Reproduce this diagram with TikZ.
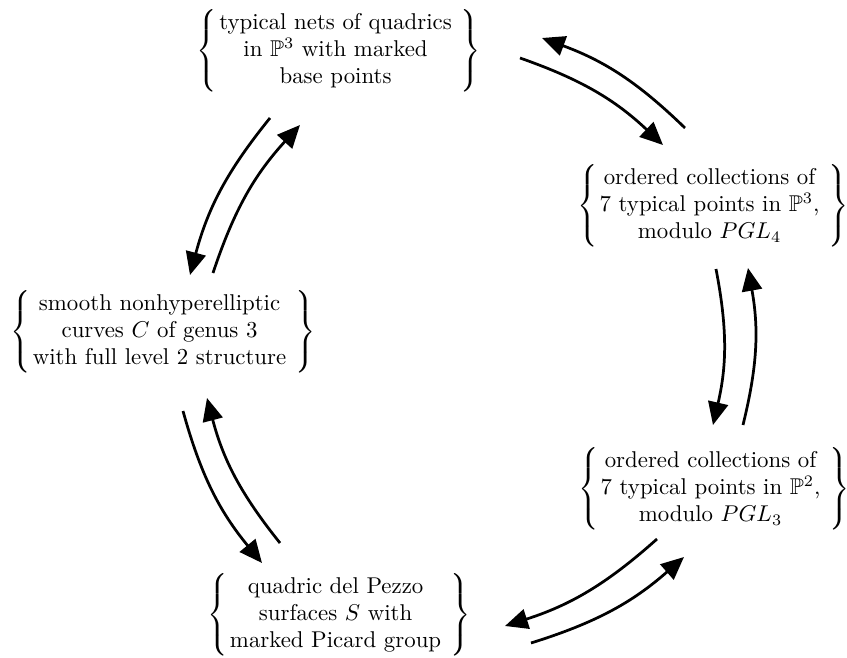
\documentclass[tikz,border=0pt]{standalone}
\usepackage{amssymb}
\usetikzlibrary{arrows.meta}
\newcommand{\bracebox}[1]{$\left\{\begin{tabular}{@{\hspace{1pt}}c@{\hspace{4pt}}}#1\end{tabular}\right\}$}
\begin{document}
\begin{tikzpicture}[x=0.4378pt,y=-0.4378pt,
  setnode/.style={inner sep=0pt,outer sep=0pt,anchor=center},
  arr/.style={line width=1.2pt,-{Triangle[length=10pt,width=8.8pt]}}]
\useasboundingbox (0,0) rectangle (847,658);
\node[setnode] (top) at (339,51) {\bracebox{typical nets of quadrics\\ in $\mathbb{P}^3$ with marked\\ base points}};
\node[setnode] (pt3) at (713,206) {\bracebox{ordered collections of\\ 7 typical points in $\mathbb{P}^3$,\\ modulo $PGL_4$}};
\node[setnode] (cur) at (163,332) {\bracebox{smooth nonhyperelliptic\\ curves $C$ of genus 3\\ with full level 2 structure}};
\node[setnode] (pt2) at (714,489) {\bracebox{ordered collections of\\ 7 typical points in $\mathbb{P}^2$,\\ modulo $PGL_3$}};
\node[setnode] (dp) at (339,615) {\bracebox{quadric del Pezzo\\ surfaces $S$ with\\ marked Picard group}};
% arrow end points
\coordinate (a1s) at (520,58);  \coordinate (a1e) at (663,145);
\coordinate (a2s) at (685,128); \coordinate (a2e) at (542,38);
\coordinate (b1s) at (716,269); \coordinate (b1e) at (713,425);
\coordinate (b2s) at (743,425); \coordinate (b2e) at (748,268);
\coordinate (c1s) at (657,539); \coordinate (c1e) at (505,626);
\coordinate (c2s) at (531,643); \coordinate (c2e) at (684,557);
\coordinate (d1s) at (183,411); \coordinate (d1e) at (262,563);
\coordinate (d2s) at (280,543); \coordinate (d2e) at (207,398);
\coordinate (e1s) at (270,118); \coordinate (e1e) at (190,275);
\coordinate (e2s) at (213,273); \coordinate (e2e) at (300,125);
\draw[arr] (a1s) to[bend left=12] (a1e);
\draw[arr] (a2s) to[bend right=12] (a2e);
\draw[arr] (b1s) to[bend left=12] (b1e);
\draw[arr] (b2s) to[bend right=12] (b2e);
\draw[arr] (c1s) to[bend left=12] (c1e);
\draw[arr] (c2s) to[bend right=12] (c2e);
\draw[arr] (d1s) to[bend right=12] (d1e);
\draw[arr] (d2s) to[bend left=12] (d2e);
\draw[arr] (e1s) to[bend right=12] (e1e);
\draw[arr] (e2s) to[bend left=12] (e2e);
\end{tikzpicture}
\end{document}
